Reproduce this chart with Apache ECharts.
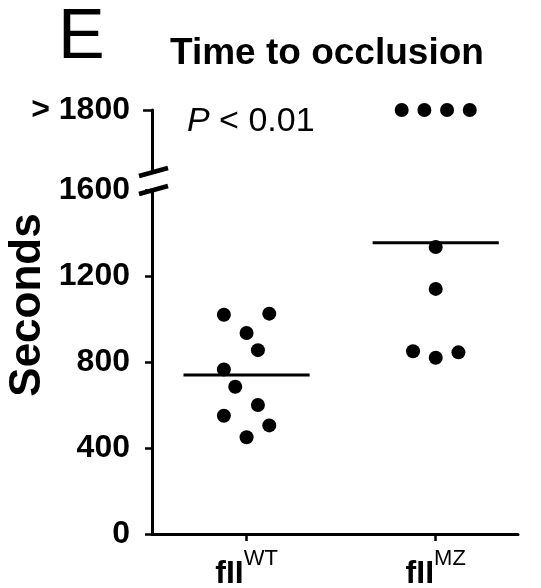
<!DOCTYPE html>
<html>
<head>
<meta charset="utf-8">
<script src="https://cdn.jsdelivr.net/npm/echarts@6/dist/echarts.min.js"></script>
<style>
html,body{margin:0;padding:0;background:#fff;}
#c{width:541px;height:588px;}
</style>
</head>
<body>
<div id="c"></div>
<script>
// ---- data ----
const categories = ['WT', 'MZ'];
const categoryCenters = [1, 3];
const yTicks = [0, 400, 800, 1200, 1600];
const censorValue = 1800;           // shown as "> 1800"
const wtValues  = [1020, 1025, 935, 855, 765, 685, 600, 550, 505, 450];
const wtOffsets = [-0.24, 0.24, 0, 0.12, -0.24, -0.12, 0.12, -0.24, 0.24, 0];
const mzValues  = [1800, 1800, 1800, 1800, 1335, 1140, 850, 820, 845];
const mzOffsets = [-0.36, -0.12, 0.12, 0.36, 0, 0, -0.24, 0, 0.24];
const meanHalfWidth = 0.667;
const pText = ' < 0.01';

const FONT = '"Liberation Sans", Arial, sans-serif';
const XMAX = 3.87;

function mean(a){ return a.reduce((s,v)=>s+v,0)/a.length; }

function pts(values, offsets, center, upper){
  const out = [];
  values.forEach((v,i)=>{
    if ((v >= censorValue) === upper) out.push([center + offsets[i], v]);
  });
  return out;
}

const groups = [
  {values: wtValues, offsets: wtOffsets, center: categoryCenters[0]},
  {values: mzValues, offsets: mzOffsets, center: categoryCenters[1]}
];

const dotStyle = {color:'#000', opacity:1};
const series = [];
groups.forEach(g=>{
  series.push({type:'scatter', xAxisIndex:0, yAxisIndex:0, data: pts(g.values,g.offsets,g.center,false),
    symbolSize:14, itemStyle:dotStyle, clip:false, silent:true});
  series.push({type:'scatter', xAxisIndex:1, yAxisIndex:1, data: pts(g.values,g.offsets,g.center,true),
    symbolSize:14, itemStyle:dotStyle, clip:false, silent:true});
  const m = mean(g.values);
  series.push({type:'line', xAxisIndex:0, yAxisIndex:0,
    data:[[g.center-meanHalfWidth, m],[g.center+meanHalfWidth, m]],
    symbol:'none', lineStyle:{color:'#000', width:3}, silent:true});
});

const chart = echarts.init(document.getElementById('c'), null, {renderer:'canvas'});
const axisLineStyle = {color:'#000', width:3};
const option = {
  animation:false,
  backgroundColor:'#fff',
  grid:[
    {left:152, right:23, top:190, bottom:54, outerBoundsMode:'none', containLabel:false},
    {left:152, right:23, top:110, height:62, outerBoundsMode:'none', containLabel:false}
  ],
  xAxis:[
    {gridIndex:0, type:'value', min:0, max:XMAX,
      axisLine:{show:true, onZero:false, lineStyle:axisLineStyle},
      axisTick:{show:true, customValues:categoryCenters, length:7, lineStyle:{color:'#000', width:2.5}},
      splitLine:{show:false},
      axisLabel:{customValues:categoryCenters, margin:14,
        formatter:(v)=>{ const i = categoryCenters.indexOf(v); return '{b|fII}{s|' + categories[i] + '}'; },
        rich:{
          b:{fontFamily:FONT, fontWeight:'bold', fontSize:32, color:'#000', lineHeight:42, verticalAlign:'bottom'},
          s:{fontFamily:FONT, fontSize:22, color:'#000', lineHeight:42, verticalAlign:'top'}
        }}
    },
    {gridIndex:1, type:'value', min:0, max:XMAX, show:false}
  ],
  yAxis:[
    {gridIndex:0, type:'value', min:0, max:1600, interval:400,
      axisLine:{show:true, onZero:false, lineStyle:axisLineStyle},
      axisTick:{show:true, length:7, lineStyle:{color:'#000', width:2.5}},
      splitLine:{show:false},
      axisLabel:{fontFamily:FONT, fontWeight:'bold', fontSize:32, color:'#000', margin:22,
        formatter:(v)=>String(v)}
    },
    {gridIndex:1, type:'value', min:1740, max:censorValue,
      axisLine:{show:true, onZero:false, lineStyle:axisLineStyle},
      axisTick:{show:true, customValues:[censorValue], length:9, lineStyle:{color:'#000', width:2.5}},
      splitLine:{show:false},
      axisLabel:{customValues:[censorValue], formatter:()=>'> ' + censorValue,
        fontFamily:FONT, fontWeight:'bold', fontSize:32, color:'#000', margin:22}
    }
  ],
  series: series
};
chart.setOption(option);

// decorations: axis break slashes, title, panel letter, y name, P value
const lowTop = chart.convertToPixel({yAxisIndex:0}, 1600);
const upBottom = chart.convertToPixel({yAxisIndex:1}, 1740);
const ax = chart.convertToPixel({xAxisIndex:0}, 0);
function slash(y){
  return {type:'line', shape:{x1:ax-13, y1:y+4, x2:ax+16, y2:y-4},
    style:{stroke:'#000', lineWidth:4.5}, silent:true};
}
chart.setOption({
  graphic:[
    slash(lowTop), slash(upBottom),
    {type:'text', left:58, top:4, style:{text:'E', font:'normal 70px ' + FONT, fill:'#000'}},
    {type:'text', left:170, top:35, style:{text:'Time to occlusion', font:'bold 37px ' + FONT, fill:'#000'}},
    {type:'text', x:28, y:305, rotation:Math.PI/2,
      style:{text:'Seconds', font:'bold 44px ' + FONT, fill:'#000', align:'center', verticalAlign:'middle'}},
    {type:'text', left:187, top:105,
      style:{text:'{i|P}{r|' + pText + '}',
        rich:{i:{fontFamily:FONT, fontStyle:'italic', fontSize:34, fill:'#000', color:'#000'},
              r:{fontFamily:FONT, fontSize:34, fill:'#000', color:'#000'}}}}
  ]
});
</script>
</body>
</html>
